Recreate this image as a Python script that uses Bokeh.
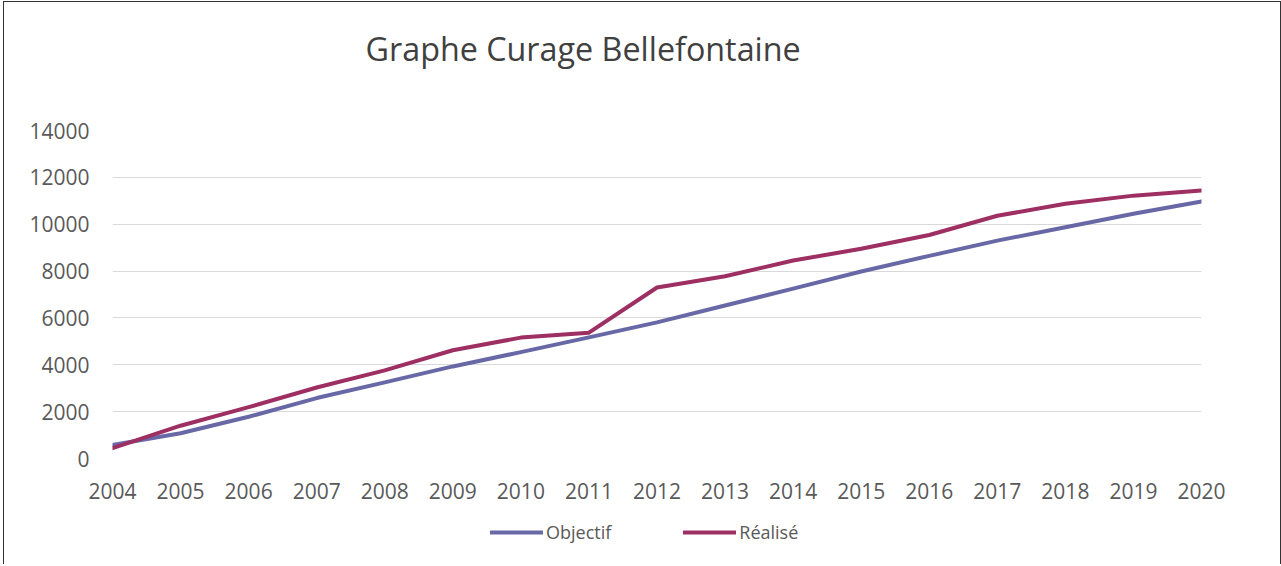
from bokeh.plotting import figure
from bokeh.layouts import column
from bokeh.models import ColumnDataSource, Legend, LegendItem, Label, FixedTicker, Range1d
from bokeh.embed import file_html
from bokeh.resources import INLINE

years = list(range(2004, 2021))
objectif = [580, 1080, 1780, 2580, 3250, 3930, 4540, 5170, 5810, 6530, 7250, 7980, 8650, 9300, 9870, 10450, 10970]
realise = [440, 1400, 2190, 3030, 3760, 4620, 5160, 5370, 7300, 7780, 8450, 8950, 9540, 10360, 10870, 11220, 11440]
y_ticks = [0, 2000, 4000, 6000, 8000, 10000, 12000, 14000]
title_text = "Graphe Curage Bellefontaine"
series_names = ["Objectif", "Réalisé"]

FONT = "Open Sans"
W = 1276
HT = 90
HP = 418
HL = 54
OBJ_COLOR = "#6868A6"
REA_COLOR = "#9E2F62"


def blank(height):
    f = figure(width=W, height=height, output_backend="svg", toolbar_location=None,
               x_range=Range1d(0, 1), y_range=Range1d(0, 1),
               x_axis_location=None, y_axis_location=None,
               min_border_left=0, min_border_right=0, min_border_top=0, min_border_bottom=0)
    f.grid.visible = False
    f.outline_line_color = None
    f.background_fill_color = "white"
    f.border_fill_color = "white"
    return f


src = ColumnDataSource(dict(year=years, obj=objectif, rea=realise))

# title strip
tf = blank(HT)
tf.add_layout(Label(x=253, y=45, x_units="screen", y_units="screen", text=title_text,
                    text_font=FONT, text_font_size="32.3px", text_color="#404040",
                    text_align="left", text_baseline="alphabetic"))

# main chart
p = figure(width=W, height=HP, output_backend="svg", toolbar_location=None,
           x_range=Range1d(2004, 2020), y_range=Range1d(0, 14000),
           min_border_left=108, min_border_right=W - 108 - 1089, min_border_top=38,
           min_border_bottom=HP - 38 - 328)
p.outline_line_color = None
p.background_fill_color = "white"
p.border_fill_color = "white"

p.line("year", "obj", source=src, line_color=OBJ_COLOR, line_width=4, line_cap="round", line_join="round")
p.line("year", "rea", source=src, line_color=REA_COLOR, line_width=4, line_cap="round", line_join="round")

p.xaxis.ticker = FixedTicker(ticks=years)
p.yaxis.ticker = FixedTicker(ticks=y_ticks)
for ax in (p.xaxis[0], p.yaxis[0]):
    ax.axis_line_color = None
    ax.major_tick_line_color = None
    ax.minor_tick_line_color = None
    ax.major_label_text_font = FONT
    ax.major_label_text_font_size = "21px"
    ax.major_label_text_color = "#595959"
p.yaxis.major_label_standoff = 17
p.xaxis.major_label_standoff = 18

p.xgrid.grid_line_color = None
p.ygrid.grid_line_color = "#D9D9D9"
p.ygrid.grid_line_width = 1.2

# legend strip (series drawn out of view; only the legend shows)
lg = blank(HL)
l1 = lg.line("year", "obj", source=src, line_color=OBJ_COLOR, line_width=4, line_cap="round")
l2 = lg.line("year", "rea", source=src, line_color=REA_COLOR, line_width=4, line_cap="round")

legend = Legend(items=[LegendItem(label=series_names[0], renderers=[l1]),
                       LegendItem(label=series_names[1], renderers=[l2])],
                orientation="horizontal", location=(378, 20),
                glyph_width=53, glyph_height=20, label_standoff=3, spacing=72,
                label_text_font=FONT, label_text_font_size="18px", label_text_color="#595959",
                border_line_color=None, background_fill_alpha=0, padding=0, margin=0)
lg.add_layout(legend)

layout = column(tf, p, lg, spacing=0)
layout.styles = {"border-left": "1px solid #333333", "border-top": "1px solid #333333",
                 "border-right": "1px solid #333333", "margin-left": "3px", "margin-top": "1px"}

open("out.html", "w").write(file_html(layout, INLINE))
